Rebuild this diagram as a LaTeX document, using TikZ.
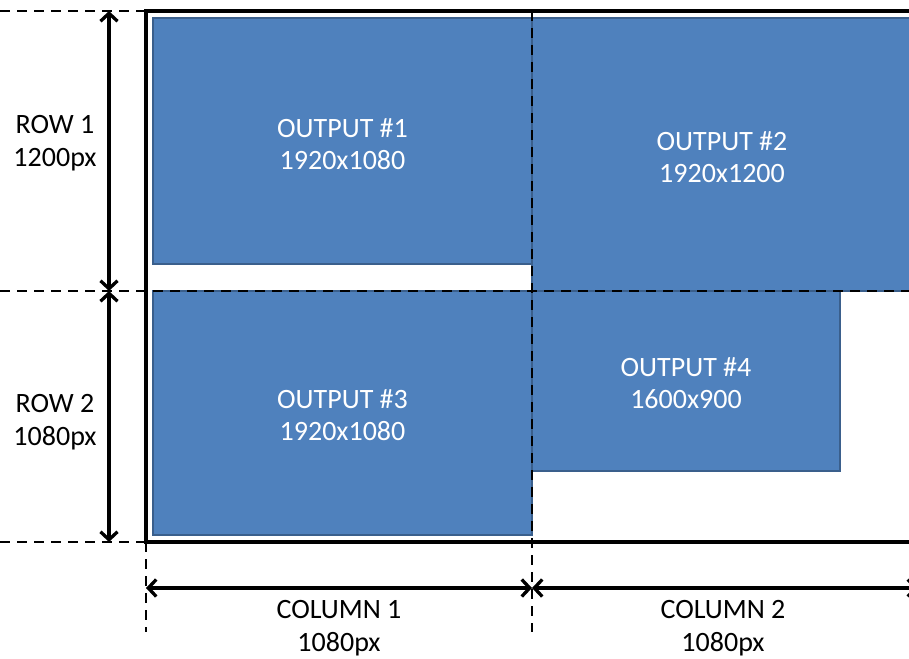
\documentclass[tikz,border=0pt]{standalone}
\usepackage{fontspec}
\setmainfont{Carlito}
\usetikzlibrary{arrows.meta}
\definecolor{outfill}{HTML}{4F81BD}
\definecolor{outline}{HTML}{3A5F8C}
\tikzset{
  outbox/.style={draw=outline, fill=outfill, line width=1.8pt, text=white,
    align=center, inner sep=0pt, font=\fontsize{28}{32}\selectfont},
  lbl/.style={align=center, inner sep=0pt, font=\fontsize{28}{33}\selectfont},
  guide/.style={line width=2.8pt, dash pattern=on 10pt off 7pt},
  dim/.style={line width=3.3pt, {Straight Barb[length=8pt,width=17pt]}-{Straight Barb[length=8pt,width=17pt]}},
  frame/.style={line width=3.3pt}
}
\begin{document}
\begin{tikzpicture}[x=1pt,y=-1pt]
\useasboundingbox (0,0) rectangle (909,658);

% display outputs
\node[outbox, minimum width=379pt, minimum height=246pt] (o1) at (342.5,141) {};
\node[outbox, minimum width=390pt, minimum height=273pt] (o2) at (727,154.5) {};
\node[outbox, minimum width=379pt, minimum height=244pt] (o3) at (342.5,413) {};
\node[outbox, minimum width=308pt, minimum height=180pt] (o4) at (686,381) {};
\node[outbox, draw=none, fill=none] (t1) at (342.5,144) {OUTPUT \#1\\1920x1080};
\node[outbox, draw=none, fill=none] (t2) at (722,157) {OUTPUT \#2\\1920x1200};
\node[outbox, draw=none, fill=none] (t3) at (342.5,415) {OUTPUT \#3\\1920x1080};
\node[outbox, draw=none, fill=none] (t4) at (686,383) {OUTPUT \#4\\1600x900};

% canvas frame
\draw[frame] (925,11) -- (146,11) -- (146,542) -- (925,542);

% guide lines
\coordinate (gTopL) at (0,11);
\coordinate (gTopR) at (146,11);
\coordinate (gMidL) at (0,291);
\coordinate (gMidR) at (909,291);
\coordinate (gBotL) at (0,542);
\coordinate (gBotR) at (146,542);
\coordinate (gC0a) at (146,542);
\coordinate (gC0b) at (146,632);
\coordinate (gC1a) at (532,11);
\coordinate (gC1b) at (532,632);
\draw[guide] (gTopL) -- (gTopR);
\draw[guide] (gMidL) -- (gMidR);
\draw[guide] (gBotL) -- (gBotR);
\draw[guide] (gC0a) -- (gC0b);
\draw[guide] (gC1a) -- (gC1b);

% row dimensions
\coordinate (r0) at (109,11);
\coordinate (r1) at (109,291);
\coordinate (r2) at (109,542);
\draw[dim] (r0) -- (r1);
\draw[dim] (r1) -- (r2);
\node[lbl] (row1) at (55,143) {ROW 1\\1200px};
\node[lbl] (row2) at (55,422) {ROW 2\\1080px};

% column dimensions
\coordinate (c0) at (146,588);
\coordinate (c1) at (532,588);
\coordinate (c2) at (918,588);
\draw[dim] (c0) -- (c1);
\draw[dim] (c1) -- (c2);
\node[lbl] (col1) at (339,628) {COLUMN 1\\1080px};
\node[lbl] (col2) at (723,628) {COLUMN 2\\1080px};
\end{tikzpicture}
\end{document}
